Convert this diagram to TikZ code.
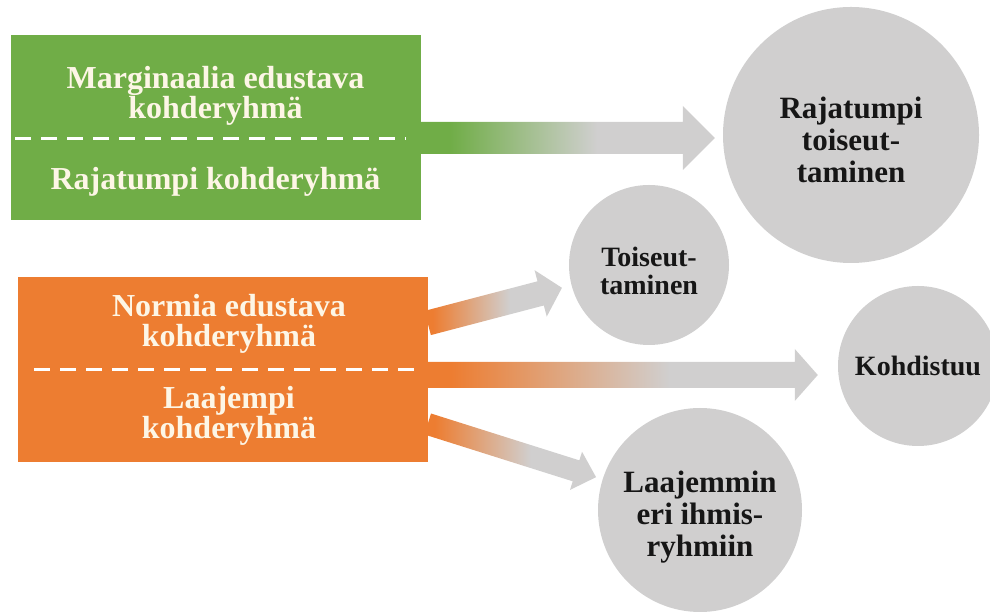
\documentclass[tikz,border=0pt]{standalone}
\usepackage{fontspec}
\setmainfont{Liberation Serif}
\usepackage{tikz}
\usetikzlibrary{calc,positioning}
\definecolor{groupgreen}{HTML}{70AD47}
\definecolor{grouporange}{HTML}{ED7D31}
\definecolor{circlegrey}{HTML}{D0CFCF}
\definecolor{boxtext}{HTML}{FDF6E6}
\definecolor{circletext}{HTML}{161616}
\pgfdeclarehorizontalshading{green fade}{100bp}{color(0bp)=(groupgreen); color(30bp)=(groupgreen); color(55bp)=(circlegrey); color(100bp)=(circlegrey)}
\pgfdeclarehorizontalshading{orange fade}{100bp}{color(0bp)=(grouporange); color(28bp)=(grouporange); color(56bp)=(circlegrey); color(100bp)=(circlegrey)}
\tikzset{group box/.style={rectangle,minimum width=410pt,minimum height=185pt,inner sep=0pt},
	box text/.style={text=boxtext,align=center,font=\bfseries\fontsize{32}{30}\selectfont},
	big text/.style={align=center,text=circletext,font=\bfseries\fontsize{31}{32}\selectfont},
	small text/.style={align=center,text=circletext,font=\bfseries\fontsize{28}{28}\selectfont},
	grey circle/.style={circle,fill=circlegrey,inner sep=0pt},
	split line/.style={white,line width=3pt,dash pattern=on 16pt off 10pt}}

% fat shaded arrow: from, to, shaft half width, head half width, head length, shading
\newcommand{\fatarrow}[6]{
	\shade[shading=#6]
		let \p1=(#1), \p2=(#2), \n1={atan2(\y2-\y1,\x2-\x1)}, \n2={veclen(\x2-\x1,\y2-\y1)} in
		[shift={(\p1)},rotate=\n1]
		(0,#3) -- ({\n2-#5},#3) -- ({\n2-#5},#4) -- (\n2,0) -- ({\n2-#5},-#4) -- ({\n2-#5},-#3) -- (0,-#3) -- cycle;
}

\begin{document}
\begin{tikzpicture}[x=1pt,y=1pt]
	\useasboundingbox (0,0) rectangle (990,612);
	
	\node [group box,fill=groupgreen] (marg) at (215.5,484.5) {};
	\node [group box,fill=grouporange] (norm) at (222.5,242.5) {};
	\node [box text] (margtop) at (215.5,516) {Marginaalia edustava\\kohderyhmä};
	\node [box text] (margbot) at (215.5,430) {Rajatumpi kohderyhmä};
	\node [box text] (normtop) at (229,288) {Normia edustava\\kohderyhmä};
	\node [box text] (normbot) at (229,196) {Laajempi\\kohderyhmä};
	\draw [split line] ($(marg.west)+(5,-11.5)$) -- ($(marg.east)+(-15,-11.5)$);
	\draw [split line] ($(norm.west)+(17,0)$) -- ($(norm.east)+(-6,0)$);
	
	\node [grey circle,minimum size=256pt,label={[big text,yshift=-5pt]center:{Rajatumpi\\toiseut-\\taminen}}] (rtoi) at (851,477) {};
	\node [grey circle,minimum size=160pt,label={[small text,yshift=-6pt]center:{Toiseut-\\taminen}}] (toi) at (649,347) {};
	\node [grey circle,minimum size=160pt,label={[small text]center:Kohdistuu}] (kohd) at (918,246) {};
	\node [grey circle,minimum size=204pt,label={[big text,yshift=-7pt]center:{Laajemmin\\eri ihmis-\\ryhmiin}}] (laaj) at (700,102) {};
	
	\coordinate (gstart) at ($(marg.east)+(0,-10.5)$);
	\coordinate (gend) at ($(rtoi.west)+(-8,-3)$);
	\coordinate (ostart1) at ($(norm.east)+(0,46.5)$);
	\coordinate (oend1) at ($(toi.center)!90pt!(ostart1)$);
	\coordinate (ostart2) at ($(norm.east)+(0,-5.5)$);
	\coordinate (oend2) at ($(kohd.west)+(-20,-9)$);
	\coordinate (ostart3) at ($(norm.east)+(0,-54.5)$);
	\coordinate (oend3) at ($(laaj.center)!109pt!(ostart3)$);
	
	\fatarrow{gstart}{gend}{16}{32}{32}{green fade}
	\foreach \s/\e/\w/\h/\l in {ostart1/oend1/12.5/24/22,ostart2/oend2/13/26/23,ostart3/oend3/11/20/21}{
		\fatarrow{\s}{\e}{\w}{\h}{\l}{orange fade}
	}
\end{tikzpicture}
\end{document}
